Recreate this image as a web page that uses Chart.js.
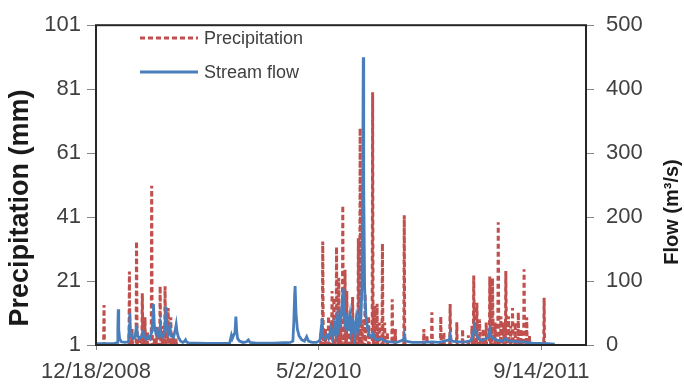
<!DOCTYPE html>
<html>
<head>
<meta charset="utf-8">
<script src="https://cdn.jsdelivr.net/npm/chart.js@4.4.0/dist/chart.umd.min.js"></script>
<style>
html,body{margin:0;padding:0;background:#fff;}
#wrap{width:684px;height:387px;position:relative;}
</style>
</head>
<body>
<div id="wrap"><canvas id="c" width="684" height="387"></canvas></div>
<script>
// x values are days since 12/18/2008
const dateTickValues = [0, 500, 1000];
const dateTickLabels = ["12/18/2008", "5/2/2010", "9/14/2011"];
const precipTickLabels = ["1", "21", "41", "61", "81", "101"];
const flowTickLabels = ["0", "100", "200", "300", "400", "500"];
const seriesNames = ["Precipitation", "Stream flow"];
const axisTitles = ["Precipitation (mm)", "Flow (m\u00B3/s)"];

// Precipitation (mm): [day, value]
const precipitation = [
  [0,0],[17,0],[18,13.5],[19,0],[74,0],[75,24],[76,3],[77,0],[80,0],[81,6],[82,0],
  [90,0],[91,33.4],[92,8],[93,0],[97,0],[98,4],[99,0],[103,0],[104,17.2],[105,3],[106,0],
  [109,0],[110,9.7],[111,0],[115,0],[116,5],[117,0],[124,0],[125,50.8],[126,6],[127,0],
  [130,0],[131,3],[132,0],[135,0],[136,6.6],[137,2],[138,0],[143,0],[144,19.4],[145,5],[146,0],
  [149,0],[150,7],[151,0],[154,0],[155,19.4],[156,4],[157,0],[161,0],[162,12.6],[163,3],[164,0],
  [167,0],[168,9.7],[169,0],[173,0],[174,4.7],[175,0],[179,0],[180,3],[181,0],
  [504,0],[505,5],[506,0],[508,0],[509,33.4],[510,6],[511,0],[514,0],[515,6],[516,0],
  [521,0],[522,10],[523,3],[524,0],[527,0],[528,8],[529,4],[530,17.9],[531,5],[532,0],
  [533,0],[534,15.8],[535,6],[536,3],[537,0],[539,0],[540,31.7],[541,8],[542,4],[543,0],
  [544,0],[545,22],[546,9],[547,0],[548,0],[549,12],[550,5],[551,0],[553,0],[554,44.6],[555,10],[556,0],
  [558,0],[559,24.5],[560,7],[561,0],[562,0],[563,17.9],[564,6],[565,0],[567,0],[568,10],[569,4],[570,0],
  [572,0],[573,7],[574,0],[575,0],[576,16],[577,5],[578,0],[580,0],[581,8],[582,3],[583,0],
  [585,0],[586,6],[587,0],[588,0],[589,34.4],[590,9],[591,0],[592,0],[593,68.8],[594,12],[595,0],
  [597,0],[598,9],[599,0],[603,0],[604,16.9],[605,5],[606,0],[611,0],[612,10],[613,4],[614,0],
  [620,0],[621,80],[622,8],[623,0],[625,0],[626,13.3],[627,4],[628,0],[630,0],[631,13.9],[632,0],
  [635,0],[636,8],[637,0],[642,0],[643,32.7],[644,6],[645,0],[647,0],[648,8],[649,0],
  [653,0],[654,5],[655,0],[664,0],[665,15.3],[666,4],[667,0],[671,0],[672,6],[673,0],
  [691,0],[692,41.6],[693,3],[694,0],
  [735,0],[736,6],[737,0],[742,0],[743,4],[744,0],[753,0],[754,11.2],[755,3],[756,0],
  [773,0],[774,9.9],[775,0],[780,0],[781,5],[782,0],[794,0],[795,13.8],[796,4],[797,0],
  [809,0],[810,8.1],[811,0],[822,0],[823,5.9],[824,0],[835,0],[836,4],[837,0],[843,0],[844,7],[845,0],
  [847,0],[848,22.7],[849,8],[850,0],[854,0],[855,14.2],[856,6],[857,0],[860,0],[861,9],[862,4],[863,0],
  [868,0],[869,6],[870,0],[875,0],[876,8],[877,0],[883,0],[884,22.4],[885,7],[886,0],
  [889,0],[890,21.9],[891,10],[892,0],[895,0],[896,8],[897,0],[902,0],[903,39.4],[904,9],[905,0],
  [908,0],[909,10],[910,5],[911,0],[914,0],[915,8],[916,0],[919,0],[920,24.1],[921,9],[922,0],
  [925,0],[926,10],[927,0],[930,0],[931,7],[932,0],[934,0],[935,12.6],[936,5],[937,0],
  [940,0],[941,8],[942,0],[947,0],[948,11.2],[949,0],[953,0],[954,6],[955,0],
  [960,0],[961,24.7],[962,6],[963,0],[966,0],[967,9.7],[968,0],[972,0],[973,4],[974,0],
  [1005,0],[1006,15.8],[1007,0],[1030,0]
];

// Stream flow (m3/s): [day, value]
const streamFlow = [
  [0,2],[40,2],[48,4],[49,25],[50,56],[51,25],[53,10],[57,5],[65,4],[73,5],[75,30],[76,50],[77,25],
  [80,14],[84,10],[88,12],[90,25],[91,32],[93,16],[97,10],[101,12],[105,18],[106,20],[108,12],
  [113,9],[117,14],[121,10],[125,20],[128,45],[129,64],[131,30],[134,20],[136,23],[139,14],
  [143,22],[144,28],[146,14],[150,12],[154,22],[156,45],[157,60],[159,30],[162,18],[166,28],
  [169,14],[174,12],[178,24],[180,32],[182,20],[185,12],[190,6],[195,4],[199,6],[201,8],[203,5],
  [208,3],[225,3],[250,2.5],[280,2.5],[300,3],[304,15],[306,10],[312,20],[314,44.5],[316,20],
  [318,10],[322,6],[330,4],[338,5],[342,8],[346,4],[360,3],[380,3],[400,3],[420,3.5],[436,4],
  [442,6],[444,35],[446,80],[447,92],[449,50],[452,25],[456,14],[462,8],[468,6],[473,13],[477,6],
  [485,4],[495,4],[500,6],[503,8],[506,30],[507,41],[509,15],[513,10],[518,15],[522,10],[527,25],
  [531,12],[535,30],[538,18],[542,45],[545,25],[549,35],[552,60],[555,88],[557,45],[560,30],
  [563,50],[566,22],[570,45],[573,20],[577,35],[580,15],[584,40],[587,22],[591,45],[594,30],
  [597,90],[599,300],[600,450],[601,250],[603,90],[606,45],[610,25],[614,15],[618,12],[622,18],
  [626,10],[632,8],[640,10],[648,6],[660,5],[675,4],[690,8],[692,15],[695,6],[710,4],[730,4],
  [755,5],[770,4],[793,8],[795,15],[798,6],[815,5],[830,5],[842,7],[846,15],[850,28],[853,18],
  [858,10],[866,7],[876,10],[881,12],[884,24],[887,14],[892,10],[898,8],[905,7],[912,6],[920,10],
  [926,6],[935,6],[945,5],[960,5],[980,3],[1000,2.5],[1015,2],[1030,1.5]
];

const RED = '#C0504D';
const BLUE = '#4A7EBB';
const TEXT = '#404040';
const FONT = "'Liberation Sans', Arial, sans-serif";

const extrasPlugin = {
  id: 'extras',
  afterDatasetsDraw(chart) {
    const {ctx, chartArea: a} = chart;
    ctx.save();
    ctx.strokeStyle = '#262626';
    ctx.lineWidth = 2;
    ctx.strokeRect(a.left, a.top, a.right - a.left, a.bottom - a.top);
    ctx.restore();
  },
  afterDraw(chart) {
    const ctx = chart.ctx;
    const ds = chart.data.datasets;
    ctx.save();
    // legend
    const items = [{y: 38, ds: ds[0]}, {y: 72, ds: ds[1]}];
    items.forEach(it => {
      ctx.beginPath();
      ctx.strokeStyle = it.ds.borderColor;
      ctx.lineWidth = 3;
      ctx.setLineDash(it.ds.borderDash || []);
      ctx.moveTo(140, it.y);
      ctx.lineTo(198, it.y);
      ctx.stroke();
      ctx.setLineDash([]);
      ctx.fillStyle = TEXT;
      ctx.font = "18px " + FONT;
      ctx.textAlign = 'left';
      ctx.textBaseline = 'middle';
      ctx.fillText(it.ds.label, 204, it.y + 1);
    });
    // axis titles
    ctx.fillStyle = '#1a1a1a';
    ctx.textAlign = 'center';
    ctx.textBaseline = 'middle';
    ctx.save();
    ctx.translate(21, 208);
    ctx.rotate(-Math.PI / 2);
    ctx.font = "bold 27px " + FONT;
    ctx.fillText(axisTitles[0], 0, 0);
    ctx.restore();
    ctx.save();
    ctx.translate(672, 212);
    ctx.rotate(-Math.PI / 2);
    ctx.font = "bold 20px " + FONT;
    ctx.fillText(axisTitles[1], 0, 0);
    ctx.restore();
    ctx.restore();
  }
};

const tickFont = {family: FONT, size: 22};

new Chart(document.getElementById('c'), {
  type: 'line',
  data: {
    datasets: [
      {
        label: seriesNames[0],
        data: precipitation.map(p => ({x: p[0], y: p[1]})),
        yAxisID: 'yP',
        borderColor: RED,
        borderDash: [5, 3],
        borderWidth: 3,
        pointRadius: 0,
        tension: 0,
        order: 2
      },
      {
        label: seriesNames[1],
        data: streamFlow.map(p => ({x: p[0], y: p[1]})),
        yAxisID: 'yF',
        borderColor: BLUE,
        borderWidth: 2.8,
        pointRadius: 0,
        tension: 0,
        order: 1
      }
    ]
  },
  options: {
    responsive: false,
    animation: false,
    events: [],
    layout: {padding: {top: 19, left: 0, right: 0, bottom: 0}},
    plugins: {legend: {display: false}, tooltip: {enabled: false}},
    scales: {
      x: {
        type: 'linear', min: 0, max: 1100,
        afterFit: s => { s.height = 42; },
        afterBuildTicks: s => { s.ticks = dateTickValues.map(v => ({value: v})); },
        ticks: {
          autoSkip: false, maxRotation: 0,
          callback: (v, i) => dateTickLabels[dateTickValues.indexOf(v)] || '',
          font: tickFont, color: TEXT, padding: 9
        },
        grid: {drawOnChartArea: false, drawTicks: true, tickLength: 5, color: '#888'},
        border: {display: false}
      },
      yP: {
        type: 'linear', position: 'left', min: 1, max: 101,
        afterFit: s => { s.width = 96; },
        ticks: {
          stepSize: 20,
          callback: (v, i) => precipTickLabels[i],
          font: tickFont, color: TEXT, padding: 6
        },
        grid: {drawOnChartArea: false, drawTicks: true, tickLength: 9, color: '#888'},
        border: {display: false}
      },
      yF: {
        type: 'linear', position: 'right', min: 0, max: 500,
        afterFit: s => { s.width = 98; },
        ticks: {
          stepSize: 100,
          callback: (v, i) => flowTickLabels[i],
          font: tickFont, color: TEXT, padding: 12
        },
        grid: {drawOnChartArea: false, drawTicks: true, tickLength: 8, color: '#888'},
        border: {display: false}
      }
    }
  },
  plugins: [extrasPlugin]
});
</script>
</body>
</html>
